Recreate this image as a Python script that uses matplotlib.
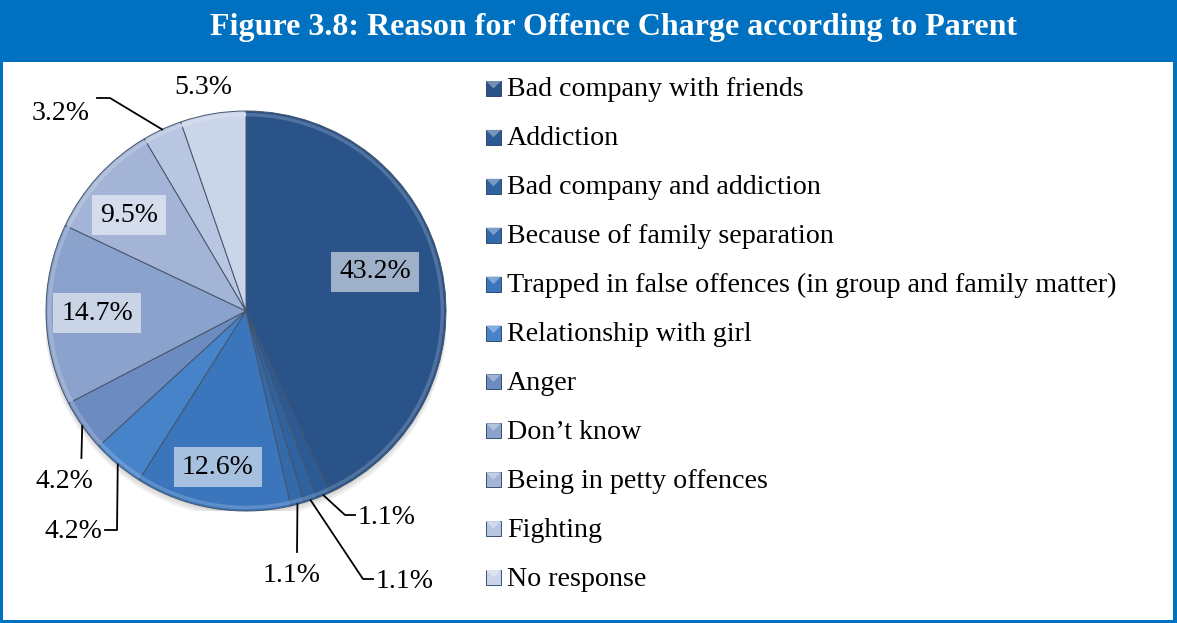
import numpy as np
import matplotlib.pyplot as plt
from matplotlib.patches import Rectangle, Circle, Polygon
from matplotlib.colors import to_rgb

# Reasons given by parents, in slice order (clockwise from 12 o'clock)
reasons = [
    "Bad company with friends",
    "Addiction",
    "Bad company and addiction",
    "Because of family separation",
    "Trapped in false offences (in group and family matter)",
    "Relationship with girl",
    "Anger",
    "Don\u2019t know",
    "Being in petty offences",
    "Fighting",
    "No response",
]
shares = [43.2, 1.1, 1.1, 1.1, 12.6, 4.2, 4.2, 14.7, 9.5, 3.2, 5.3]

slice_colors = ["#2A5389", "#2C5A95", "#30629F", "#3469AA", "#3B75BC", "#4783C9",
                "#6C8BC0", "#8BA2CC", "#A3B4D6", "#B8C6E2", "#CBD5EA"]

W, H = 1177, 623
BLUE = "#0070C0"
SERIF = ["Liberation Serif", "DejaVu Serif"]

fig = plt.figure(figsize=(W / 100, H / 100), dpi=100, facecolor=BLUE)

# white chart panel under the blue header band
fig.patches.append(Rectangle((3 / W, 3 / H), 1170 / W, 558 / H,
                             transform=fig.transFigure, facecolor="white",
                             edgecolor="none", zorder=-5))
fig.text(613 / W, 1 - 28 / H, "Figure 3.8: Reason for Offence Charge according to Parent",
         ha="center", va="center", color="white", fontsize=23,
         fontweight="bold", family=SERIF)

# pie: centre (246, 311) px, radius 200 px
ax = fig.add_axes([46 / W, (H - 511) / H, 400 / W, 400 / H])
ax.set_zorder(2)
for k, a in enumerate([0.05, 0.05, 0.06]):
    ax.add_patch(Circle((0.0, -0.012 - 0.008 * k), 1.0 + 0.004 * k,
                        facecolor="black", alpha=a, edgecolor="none", zorder=0))

wedges, _ = ax.pie(shares, colors=slice_colors, startangle=90, counterclock=False,
                   radius=1.0, frame=False,
                   wedgeprops=dict(edgecolor="#44546A", linewidth=0.7))


def lighten(c, f):
    r, g, b = to_rgb(c)
    return (r + (1 - r) * f, g + (1 - g) * f, b + (1 - b) * f)


# soft bevel along the rim of every slice
for w, c in zip(wedges, slice_colors):
    t = np.radians(np.linspace(w.theta1, w.theta2, 40))
    ax.plot(0.982 * np.cos(t), 0.982 * np.sin(t), color=lighten(c, 0.18),
            lw=2.5, solid_capstyle="butt", zorder=3)

ax.set_xlim(-1, 1)
ax.set_ylim(-1, 1)
ax.set_aspect("equal")


def mid_point(i, r=1.0):
    w = wedges[i]
    a = np.radians((w.theta1 + w.theta2) / 2)
    return r * np.cos(a), r * np.sin(a)


# labels sitting inside the bigger slices
inner_pos = {0: (0.645, 0.195), 4: (-0.14, -0.78), 7: (-0.745, -0.01), 8: (-0.585, 0.48)}
for i, (x, y) in inner_pos.items():
    ax.text(x, y, f"{shares[i]}%", ha="center", va="center", fontsize=20,
            family=SERIF, zorder=5,
            bbox=dict(boxstyle="square,pad=0.28", facecolor="white",
                      alpha=0.55, edgecolor="none"))

# labels outside with leader lines: (elbow, line end, text pos, ha)
outer = {
    1: ([(0.495, -1.02), (0.545, -1.02)], (0.56, -1.035), "left"),
    2: ([(0.585, -1.34), (0.635, -1.34)], (0.65, -1.35), "left"),
    3: ([(0.255, -1.205)], (0.23, -1.32), "center"),
    5: ([(-0.645, -1.095), (-0.705, -1.095)], (-0.72, -1.1), "right"),
    6: ([(-0.823, -0.735)], (-0.91, -0.855), "center"),
    9: ([(-0.68, 1.065), (-0.745, 1.065)], (-0.78, 0.99), "right"),
    10: ([], (-0.215, 1.12), "center"),
}
for i, (pts, (tx, ty), ha) in outer.items():
    if pts:
        x0, y0 = mid_point(i, 1.0)
        xs = [x0] + [p[0] for p in pts]
        ys = [y0] + [p[1] for p in pts]
        ax.plot(xs, ys, color="black", lw=1.3, clip_on=False, zorder=6)
    ax.text(tx, ty, f"{shares[i]}%", ha=ha, va="center", fontsize=20,
            family=SERIF, clip_on=False)

# legend drawn row by row
for i, (lab, c) in enumerate(zip(reasons, slice_colors)):
    yc = 88.5 + i * 48.9
    x0, s = 486, 15
    fx, fy = x0 / W, 1 - (yc + s / 2) / H
    fw, fh = s / W, s / H
    fig.patches.append(Rectangle((fx, fy), fw, fh, transform=fig.transFigure,
                                 facecolor=c, edgecolor="#1F3A60", lw=0.6))
    fig.patches.append(Polygon([(fx, fy + fh), (fx + fw, fy + fh), (fx + fw / 2, fy + fh / 2)],
                               closed=True, transform=fig.transFigure,
                               facecolor=lighten(c, 0.35), edgecolor="none"))
    fig.text(507 / W, 1 - (yc + 1.5) / H, lab, ha="left", va="center", fontsize=20.2,
             family=SERIF, color="black")

fig.savefig("out.png", dpi=100, facecolor=BLUE)
